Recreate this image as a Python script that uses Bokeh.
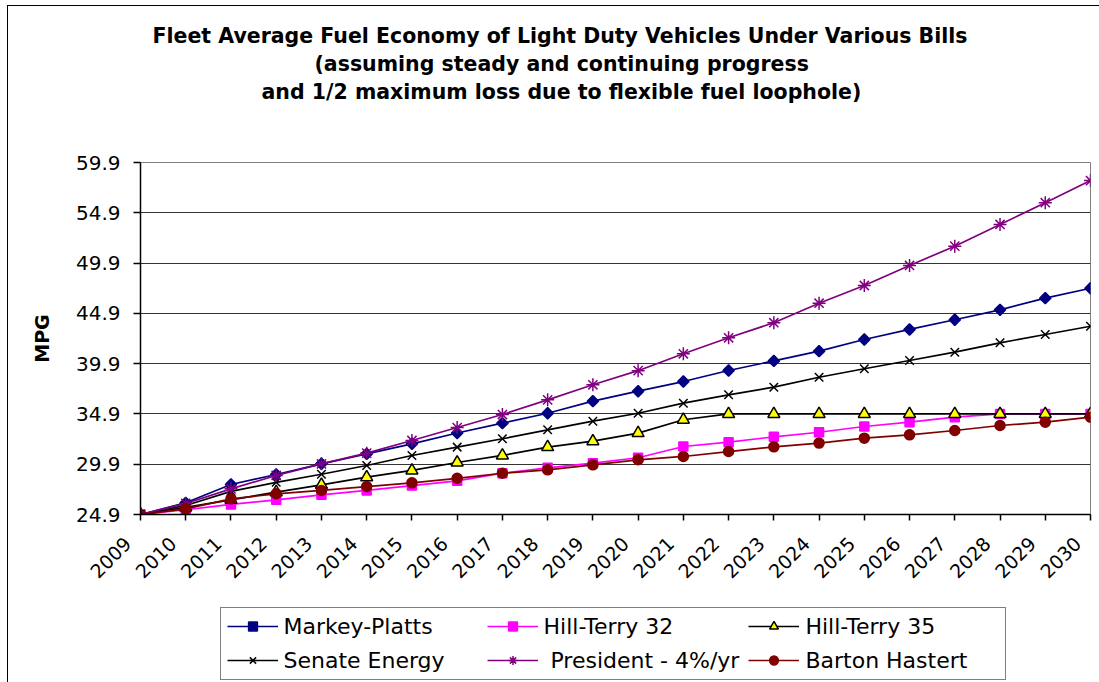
import math
from bokeh.plotting import figure
from bokeh.layouts import column
from bokeh.models import Range1d, FixedTicker, Legend, LegendItem, Title, LinearAxis
from bokeh.embed import file_html
from bokeh.resources import INLINE

# ---------------- data ----------------
years = list(range(2009, 2031))

markey_platts = [24.9, 26.06, 27.88, 28.88, 29.94, 30.93, 31.93, 33.0, 33.98, 34.97, 36.17,
                 37.16, 38.12, 39.22, 40.17, 41.14, 42.3, 43.3, 44.26, 45.25, 46.41, 47.4]
hill_terry_32 = [24.9, 25.37, 25.9, 26.36, 26.86, 27.29, 27.78, 28.25, 29.01, 29.54, 30.0,
                 30.54, 31.66, 32.09, 32.62, 33.08, 33.65, 34.08, 34.58, 34.9, 34.9, 34.9]
hill_terry_35 = [24.9, 25.6, 26.36, 27.12, 27.85, 28.61, 29.28, 30.07, 30.77, 31.6, 32.19,
                 32.99, 34.32, 34.9, 34.9, 34.9, 34.9, 34.9, 34.9, 34.9, 34.9, 34.9]
senate_energy = [24.9, 25.8, 27.2, 28.1, 28.9, 29.77, 30.77, 31.6, 32.43, 33.32, 34.18,
                 34.97, 35.97, 36.8, 37.56, 38.55, 39.39, 40.21, 41.04, 41.97, 42.8, 43.62]
president_4pct = [24.9, 26.0, 27.45, 28.78, 29.94, 31.0, 32.26, 33.55, 34.84, 36.3, 37.8,
                  39.2, 40.88, 42.47, 43.97, 45.91, 47.67, 49.66, 51.58, 53.74, 55.9, 58.1]
barton_hastert = [24.9, 25.46, 26.46, 26.96, 27.29, 27.68, 28.05, 28.5, 29.0, 29.34, 29.84,
                  30.34, 30.67, 31.16, 31.63, 32.0, 32.49, 32.82, 33.25, 33.75, 34.08, 34.58]

series_names = ["Markey-Platts", "Hill-Terry 32", "Hill-Terry 35",
                "Senate Energy", " President - 4%/yr", "Barton Hastert"]
y_ticks = [24.9, 29.9, 34.9, 39.9, 44.9, 49.9, 54.9, 59.9]
y_label = "MPG"
title_lines = ["Fleet Average Fuel Economy of Light Duty Vehicles Under Various Bills",
               "(assuming steady and continuing progress",
               "and 1/2 maximum loss due to flexible fuel loophole)"]

FONT = "DejaVu Sans"
NB = "\u00a0"

series_values = [markey_platts, hill_terry_32, hill_terry_35,
                 senate_energy, president_4pct, barton_hastert]
styles = [
    dict(color="#000080", marker="square", fill="#000080", size=8, angle=math.pi / 4),
    dict(color="#FF00FF", marker="square", fill="#FF00FF", size=9, angle=0),
    dict(color="#000000", marker="triangle", fill="#FFFF00", size=12, angle=0),
    dict(color="#000000", marker="x", fill=None, size=12, angle=0),
    dict(color="#800080", marker="asterisk", fill=None, size=13, angle=0),
    dict(color="#800000", marker="circle", fill="#800000", size=10, angle=0),
]


def draw_series(fig):
    out = []
    for name, vals, st in zip(series_names, series_values, styles):
        lr = fig.line(years, vals, line_color=st["color"], line_width=1.7)
        mline = "#000000" if st["marker"] == "triangle" else st["color"]
        sr = fig.scatter(years, vals, marker=st["marker"], size=st["size"], angle=st["angle"],
                         line_color=mline, fill_color=st["fill"], line_width=1.5)
        out.append((name, lr, sr))
    return out


LEFT, RIGHT = 132, 9

# ---------------- main figure ----------------
p = figure(width=1091, height=594, output_backend="svg", toolbar_location=None,
           x_range=Range1d(years[0], years[-1]), y_range=Range1d(y_ticks[0], y_ticks[-1]),
           min_border_left=LEFT, min_border_right=RIGHT, min_border_top=156, min_border_bottom=86,
           background_fill_color="white", border_fill_color="white")

p.outline_line_color = "#808080"
p.outline_line_width = 1

p.xgrid.visible = False
p.ygrid.grid_line_color = "#333333"
p.ygrid.grid_line_width = 1

p.xaxis.ticker = FixedTicker(ticks=years)
p.xaxis.major_label_overrides = {y: str(y) + NB * 3 for y in years}
p.xaxis.major_label_orientation = math.pi / 4
p.xaxis.major_tick_out = 6
p.xaxis.major_tick_in = 0
p.xaxis.minor_tick_line_color = None
p.xaxis.axis_line_color = "black"
p.xaxis.axis_line_width = 1.5
p.xaxis.major_tick_line_width = 1.5
p.xaxis.major_label_text_font = FONT
p.xaxis.major_label_text_font_size = "19px"
p.xaxis.major_label_text_color = "black"
p.xaxis.major_label_standoff = 7

p.yaxis.ticker = FixedTicker(ticks=y_ticks)
p.yaxis.major_tick_out = 7
p.yaxis.major_tick_in = 0
p.yaxis.minor_tick_line_color = None
p.yaxis.axis_line_color = "black"
p.yaxis.axis_line_width = 1.5
p.yaxis.major_tick_line_width = 1.5
p.yaxis.major_label_text_font = FONT
p.yaxis.major_label_text_font_size = "20px"
p.yaxis.major_label_text_color = "black"
p.yaxis.major_label_standoff = 13
p.yaxis.axis_label = y_label
p.yaxis.axis_label_text_font = FONT
p.yaxis.axis_label_text_font_style = "bold"
p.yaxis.axis_label_text_font_size = "19px"
p.yaxis.axis_label_text_color = "black"
p.yaxis.axis_label_standoff = 20

draw_series(p)

# invisible spacer between the frame and the title block
spacer = LinearAxis(ticker=FixedTicker(ticks=[years[0]]), major_tick_out=57, major_tick_in=0,
                    major_label_overrides={years[0]: ""},
                    axis_line_color=None, major_tick_line_color="white",
                    minor_tick_line_color=None)
p.add_layout(spacer, "above")

title_offsets = [12, 174, 121]
for txt, off in reversed(list(zip(title_lines, title_offsets))):
    p.add_layout(Title(text=txt, align="left", offset=off, standoff=1.5,
                       vertical_align="middle",
                       text_font=FONT, text_font_style="bold",
                       text_font_size="20.5px", text_color="black"), "above")

# ---------------- legend strip (same frame edges as the chart) ----------------
lf = figure(width=1091, height=82, output_backend="svg", toolbar_location=None,
            x_range=Range1d(0, 1), y_range=Range1d(0, 1),
            x_axis_type=None, y_axis_type=None,
            min_border_left=LEFT, min_border_right=RIGHT, min_border_top=6, min_border_bottom=0,
            background_fill_color="white", border_fill_color="white")
lf.outline_line_color = None
lf.xgrid.visible = False
lf.ygrid.visible = False

items = [LegendItem(label=name, renderers=[lr, sr]) for name, lr, sr in draw_series(lf)]
legend = Legend(items=items, orientation="horizontal", ncols=3,
                location=(80, 2),
                label_text_font=FONT, label_text_font_size="22px",
                label_text_color="black",
                glyph_width=51, glyph_height=22, label_standoff=6, label_width=194,
                spacing=9, padding=6, margin=0,
                border_line_color="black", border_line_width=1,
                background_fill_color="white", background_fill_alpha=1)
lf.add_layout(legend)

layout = column(p, lf, spacing=0)
layout.styles = {"margin-left": "6.5px", "margin-top": "4.5px",
                 "border-left": "1.5px solid black", "border-top": "1.5px solid black"}

open("out.html", "w").write(file_html(layout, INLINE))
